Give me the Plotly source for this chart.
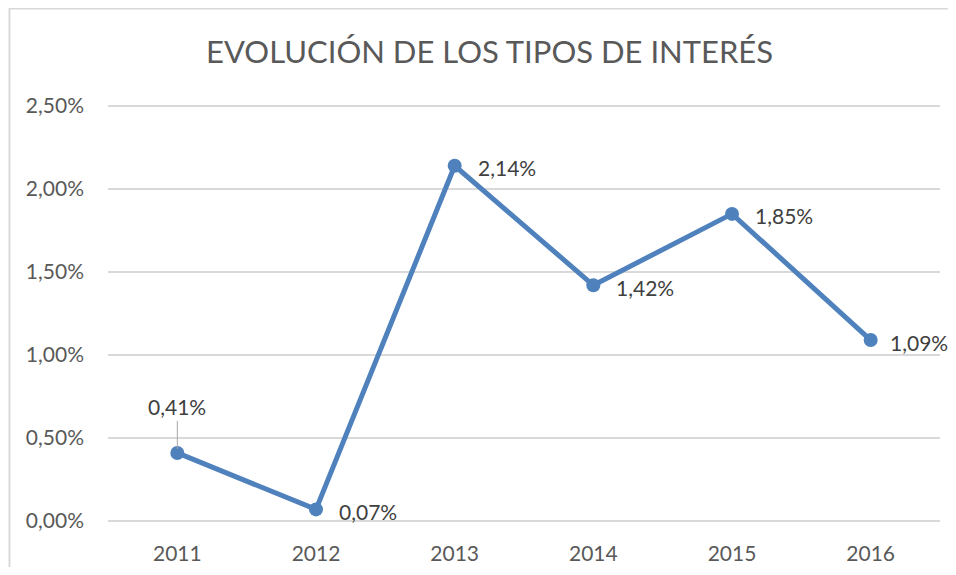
import plotly.graph_objects as go

years = ["2011", "2012", "2013", "2014", "2015", "2016"]
rates = [0.0041, 0.0007, 0.0214, 0.0142, 0.0185, 0.0109]
labels = ["0,41%", "0,07%", "2,14%", "1,42%", "1,85%", "1,09%"]
tick_vals = [0.0, 0.005, 0.010, 0.015, 0.020, 0.025]
tick_text = ["0,00%", "0,50%", "1,00%", "1,50%", "2,00%", "2,50%"]
title = "EVOLUCIÓN DE LOS TIPOS DE INTERÉS"

FONT = "Lato"
LINE = "#4F81BD"

# extend the value range by 2 px on each side so that edge gridlines are drawn
PAD = tick_vals[-1] * 2 / 415

fig = go.Figure()
fig.add_trace(go.Scatter(
    x=years, y=rates, mode="lines+markers",
    line=dict(color=LINE, width=5),
    marker=dict(color=LINE, size=14),
    hoverinfo="skip", showlegend=False, cliponaxis=False,
))

annotations = []
n = len(rates)
for i, (v, t) in enumerate(zip(rates, labels)):
    if i == 0:
        annotations.append(dict(
            x=i, y=v, xref="x", yref="y", text=t, showarrow=True,
            arrowhead=0, arrowwidth=1, arrowcolor="#A6A6A6",
            ax=0, ay=-46, standoff=4,
            font=dict(family=FONT, size=21, color="#404040"),
        ))
    else:
        annotations.append(dict(
            x=i, y=v, xref="x", yref="y", text=t, showarrow=False,
            xanchor="left", yanchor="middle",
            xshift=17 if i == n - 1 else 21, yshift=-2,
            font=dict(family=FONT, size=21, color="#404040"),
        ))

fig.update_layout(
    width=948, height=559,
    margin=dict(l=100, r=16, t=96, b=44),
    paper_bgcolor="white", plot_bgcolor="white",
    title=dict(text=title, x=0.508, xanchor="center", xref="container",
               y=0.921, yanchor="middle", yref="container",
               font=dict(family=FONT, size=31, color="#595959")),
    xaxis=dict(type="category", range=[-0.5, 5.5], showgrid=False,
               showline=False, zeroline=False, ticks="", automargin=False,
               ticklabelstandoff=16,
               tickfont=dict(family=FONT, size=21, color="#595959")),
    yaxis=dict(range=[-PAD, tick_vals[-1] + PAD], tickvals=tick_vals,
               ticktext=tick_text, automargin=False,
               showgrid=True, gridcolor="#D9D9D9", gridwidth=2,
               zeroline=False, showline=False, ticks="",
               ticklabelstandoff=23,
               tickfont=dict(family=FONT, size=21, color="#595959")),
    annotations=annotations,
    shapes=[dict(type="rect", xref="paper", yref="paper",
                 x0=-0.1184, x1=1.2, y0=-0.3, y1=1.2279,
                 line=dict(color="#D9D9D9", width=2), layer="below")],
)

fig.write_html("out.html")
